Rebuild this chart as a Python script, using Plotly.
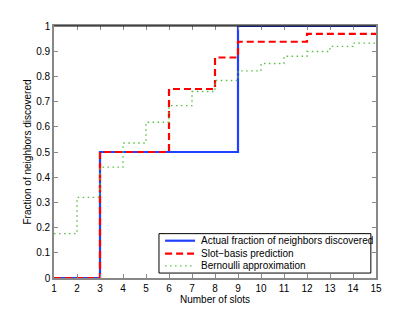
import plotly.graph_objects as go

# Data
actual_x = [1, 3, 9, 15]
actual_y = [0, 0.5, 1, 1]

slot_x = [1, 3, 6, 8, 9, 12, 15]
slot_y = [0, 0.5, 0.75, 0.875, 0.9375, 0.96875, 0.96875]

bern_x = [1, 2, 3, 4, 5, 6, 7, 8, 9, 10, 11, 12, 13, 14, 15]
bern_y = [0.176, 0.32, 0.44, 0.536, 0.618, 0.684, 0.74, 0.784, 0.822, 0.851, 0.88, 0.899, 0.919, 0.932, 0.932]

x_ticks = list(range(1, 16))
y_ticks = [0, 0.1, 0.2, 0.3, 0.4, 0.5, 0.6, 0.7, 0.8, 0.9, 1]
y_tick_text = ["0", "0.1", "0.2", "0.3", "0.4", "0.5", "0.6", "0.7", "0.8", "0.9", "1"]

names = ["Actual fraction of neighbors discovered", "Slot\u2212basis prediction", "Bernoulli approximation"]
colors = ["#2040ff", "#ff0000", "#55c040"]
widths = [2.2, 2.2, 1.4]
dashes = ["solid", "7px,4px", "1.5px,3.5px"]

fig = go.Figure()
for xs, ys, nm, c, w, d in zip([actual_x, slot_x, bern_x], [actual_y, slot_y, bern_y], names, colors, widths, dashes):
    fig.add_trace(go.Scatter(x=xs, y=ys, mode="lines", line_shape="hv",
                             line=dict(color=c, width=w, dash=d), name=nm, showlegend=False))

axis_common = dict(showgrid=False, zeroline=False, showline=True, linecolor="#888888",
                   linewidth=1.6, mirror="ticks", ticks="inside", ticklen=4,
                   tickcolor="#888888", tickwidth=1, tickfont=dict(size=10, color="#000000"))

# custom legend (compact, MATLAB-like)
shapes = [
    dict(type="line", xref="paper", yref="paper", x0=0, x1=1, y0=1, y1=1,
         line=dict(color="black", width=1)),
    dict(type="rect", xref="paper", yref="paper", x0=0.326, x1=0.984, y0=0.0196, y1=0.176,
         line=dict(color="black", width=1), fillcolor="white", layer="above"),
]
annotations = []
leg_y = [0.148, 0.097, 0.048]
for ly, nm, c, w, d in zip(leg_y, names, colors, widths, dashes):
    shapes.append(dict(type="line", xref="paper", yref="paper", x0=0.345, x1=0.438, y0=ly, y1=ly,
                       line=dict(color=c, width=w, dash=d), layer="above"))
    annotations.append(dict(xref="paper", yref="paper", x=0.450, y=ly, text=nm, showarrow=False,
                            xanchor="left", yanchor="middle", font=dict(size=10, color="black")))

fig.update_layout(
    width=415, height=313,
    margin=dict(l=46, r=47, t=15, b=43),
    paper_bgcolor="white", plot_bgcolor="white",
    font=dict(family="Liberation Sans, Arial, sans-serif", size=10, color="black"),
    xaxis=dict(range=[1, 15], tickvals=x_ticks,
               title=dict(text="Number of slots", font=dict(size=10), standoff=2),
               **axis_common),
    yaxis=dict(range=[0, 1], tickvals=y_ticks, ticktext=y_tick_text,
               title=dict(text="Fraction of neighbors discovered", font=dict(size=10), standoff=3),
               **axis_common),
    shapes=shapes,
    annotations=annotations,
    showlegend=False,
)

fig.write_html("out.html")
